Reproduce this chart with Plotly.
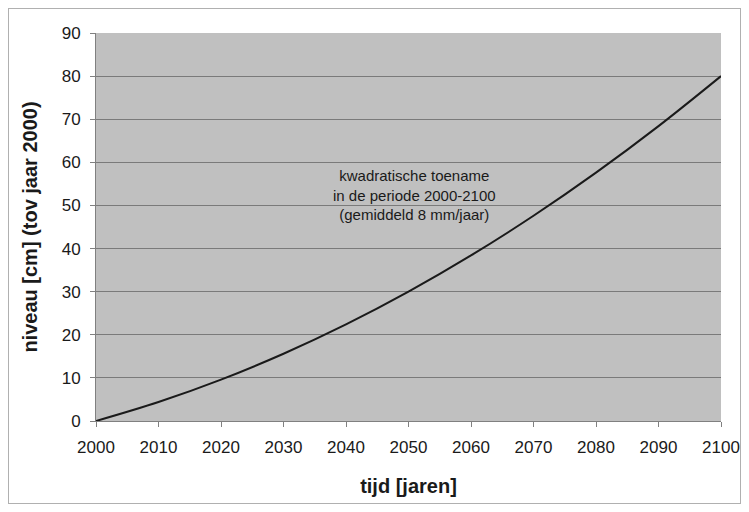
import plotly.graph_objects as go

years = [2000, 2010, 2020, 2030, 2040, 2050, 2060, 2070, 2080, 2090, 2100]
niveau = [0, 4.4, 9.6, 15.6, 22.4, 30.0, 38.4, 47.6, 57.6, 68.4, 80.0]
x_ticks = [2000, 2010, 2020, 2030, 2040, 2050, 2060, 2070, 2080, 2090, 2100]
y_ticks = [0, 10, 20, 30, 40, 50, 60, 70, 80, 90]

# page body has an 8px margin on every side; keep the page within the window
W, H = 733, 496
ml, mr, mt, mb = 88, 20, 25, 83
pw, ph = W - ml - mr, H - mt - mb

def px(xp):
    return (xp - ml) / pw

def py(yp):
    return (H - mb - yp) / ph

fig = go.Figure()
fig.add_trace(go.Scatter(x=years, y=niveau, mode="lines",
                         line=dict(color="#1a1a1a", width=2, shape="spline"),
                         showlegend=False, hoverinfo="x+y"))

font = "Liberation Sans, Arial, sans-serif"
fig.update_layout(
    width=W, height=H,
    margin=dict(l=ml, r=mr, t=mt, b=mb),
    paper_bgcolor="white", plot_bgcolor="#c0c0c0",
    font=dict(family=font, color="#1a1a1a", size=18),
    xaxis=dict(range=[2000, 2100], tickvals=x_ticks, showgrid=False,
               ticks="outside", ticklen=5, tickcolor="#808080",
               showline=True, linecolor="#808080", linewidth=1,
               zeroline=False, tickfont=dict(size=17), ticklabelstandoff=6,
               automargin=False, ticklabeloverflow="allow",
               title=dict(text="<b>tijd [jaren]</b>", font=dict(size=20), standoff=22)),
    yaxis=dict(range=[0, 90], tickvals=y_ticks, showgrid=True,
               gridcolor="#7a7a7a", gridwidth=1.3,
               ticks="outside", ticklen=5, tickcolor="#808080",
               showline=True, linecolor="#808080", linewidth=1,
               zeroline=False, tickfont=dict(size=17), ticklabelstandoff=6,
               automargin=False,
               title=dict(text="<b>niveau [cm] (tov jaar 2000)</b>", font=dict(size=20), standoff=18)),
)

fig.add_annotation(x=2051, y=52.4, xref="x", yref="y",
                   text="kwadratische toename<br>in de periode 2000-2100<br>(gemiddeld 8 mm/jaar)",
                   showarrow=False, font=dict(size=15, color="#1a1a1a"), align="center")

fig.add_shape(type="rect", xref="paper", yref="paper",
              x0=px(0), x1=px(W), y0=py(H), y1=py(0),
              line=dict(color="#b0b0b0", width=2), fillcolor="rgba(0,0,0,0)", layer="below")

fig.write_html("out.html")
